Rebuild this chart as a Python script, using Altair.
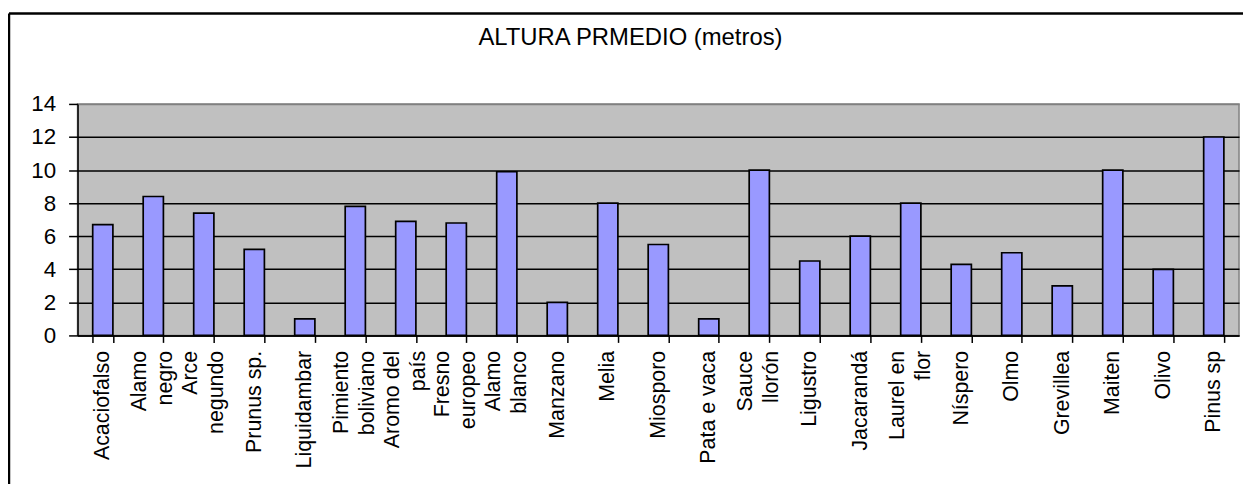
import altair as alt
import pandas as pd

# Species (a "|" marks where the axis label wraps to a new line)
categories = [
    "Acaciofalso", "Alamo|negro", "Arce|negundo", "Prunus sp.", "Liquidambar",
    "Pimiento|boliviano", "Aromo del|país", "Fresno|europeo", "Alamo|blanco",
    "Manzano", "Melia", "Miosporo", "Pata e vaca", "Sauce|llorón", "Ligustro",
    "Jacarandá", "Laurel en|flor", "Níspero", "Olmo", "Grevillea", "Maiten",
    "Olivo", "Pinus sp",
]
# Average height (metres)
heights = [6.7, 8.4, 7.4, 5.2, 1.0, 7.8, 6.9, 6.8, 9.9, 2.0, 8.0, 5.5, 1.0,
           10.0, 4.5, 6.0, 8.0, 4.3, 5.0, 3.0, 10.0, 4.0, 12.0]
y_ticks = [0, 2, 4, 6, 8, 10, 12, 14]
title_text = "ALTURA PRMEDIO (metros)"

FONT = "Liberation Sans"

df = pd.DataFrame({"especie": categories, "altura": heights})

x_scale = alt.Scale(paddingInner=0.6, paddingOuter=0.3)
y_enc = alt.Y(
    "altura:Q", title=None,
    scale=alt.Scale(domain=[0, 14], nice=False, zero=True),
    axis=alt.Axis(
        values=y_ticks, labelFont=FONT, labelFontSize=22.5, labelColor="black",
        labelPadding=13, tickSize=9, tickColor="black", tickWidth=1.5,
        domainColor="black", domainWidth=1.5,
        grid=True, gridWidth=1.5,
        gridColor={"condition": {"test": "datum.value === 14", "value": "#808080"},
                   "value": "black"},
    ),
)

# bars + axis with ticks and the single-line labels
bars = alt.Chart(df).mark_bar(
    fill="#9999FF", stroke="black", strokeWidth=1.7
).encode(
    x=alt.X(
        "especie:N", sort=None, title=None, scale=x_scale,
        axis=alt.Axis(
            orient="bottom",
            labelAngle=-90, labelAlign="right", labelBaseline="middle",
            labelExpr="indexof(datum.label, '|') >= 0 ? '' : datum.label",
            labelFont=FONT, labelFontSize=21.5, labelColor="black",
            labelPadding=8, labelLimit=400,
            tickBand="extent", tickSize=7, tickColor="black", tickWidth=1.5,
            domainColor="black", domainWidth=1.5, grid=False,
        ),
    ),
    y=y_enc,
)

# invisible layer carrying the two-line labels, centred on the bar
wrapped = alt.Chart(df).mark_bar(opacity=0).encode(
    x=alt.X(
        "especie:N", sort=None, title=None, scale=x_scale,
        axis=alt.Axis(
            orient="bottom",
            labelAngle=-90, labelAlign="right", labelBaseline="middle",
            labelExpr="indexof(datum.label, '|') >= 0 ? split(datum.label, '|') : ''",
            labelLineHeight=26, labelOffset=-13,
            labelFont=FONT, labelFontSize=21.5, labelColor="black",
            labelPadding=15, labelLimit=400,
            ticks=False, tickSize=0, domain=False, grid=False,
        ),
    ),
    y=y_enc,
)

frame_data = alt.Data(values=[{"k": 0}])
left_line = alt.Chart(frame_data).mark_rule(color="black", strokeWidth=2.5).encode(
    x=alt.value(-69), y=alt.value(-91), y2=alt.value(600)
)
top_line = alt.Chart(frame_data).mark_rule(color="black", strokeWidth=2.5).encode(
    y=alt.value(-91), x=alt.value(-69), x2=alt.value(1400)
)

chart = alt.layer(bars, wrapped, left_line, top_line).resolve_scale(
    x="independent"
).resolve_axis(
    x="independent"
).properties(
    width=1169,
    height=233,
    title=alt.TitleParams(
        title_text, font=FONT, fontSize=24, fontWeight="normal", color="black",
        anchor="middle", dx=-28, dy=57, offset=0, baseline="alphabetic", frame="group",
    ),
    autosize=alt.AutoSizeParams(type="none"),
    padding={"left": 70, "top": 95, "right": 4, "bottom": 150},
).configure(
    background="white"
).configure_view(
    fill="#C0C0C0", stroke="#808080", strokeWidth=1.5
)

chart.save("out.html", embed_options={"renderer": "svg", "actions": False})
